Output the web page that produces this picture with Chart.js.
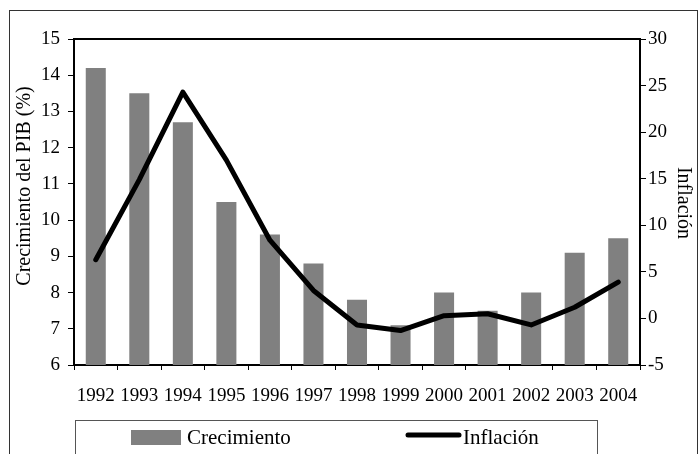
<!DOCTYPE html>
<html lang="es">
<head>
<meta charset="utf-8">
<title>Crecimiento e inflación</title>
<script src="https://cdn.jsdelivr.net/npm/chart.js@4/dist/chart.umd.min.js"></script>
<style>
  html, body { margin: 0; padding: 0; background: #fff; }
  #wrap { width: 699px; height: 454px; }
</style>
</head>
<body>
<div id="wrap"><canvas id="chart" width="699" height="454"></canvas></div>
<script>
// ─── DATA ─────────────────────────────────────────────────────────────────────
const years = ['1992', '1993', '1994', '1995', '1996', '1997', '1998',
               '1999', '2000', '2001', '2002', '2003', '2004'];
const crecimiento = [14.2, 13.5, 12.7, 10.5, 9.6, 8.8, 7.8, 7.1, 8.0, 7.5, 8.0, 9.1, 9.5];
const inflacion = [6.3, 14.9, 24.3, 17.0, 8.4, 3.0, -0.7, -1.3, 0.3, 0.5, -0.7, 1.2, 3.9];
const leftTicks = { min: 6, max: 15, step: 1 };
const rightTicks = { min: -5, max: 30, step: 5 };
const leftTitle = 'Crecimiento del PIB (%)';
const rightTitle = 'Inflación';

const SERIF = '"Liberation Serif", "Times New Roman", serif';
const BAR_GREY = '#808080';

// ─── FRAME + TITLES + LEGEND PLUGIN ───────────────────────────────────────────
// Excel-style frame: outer border, top edge of the plot box, axis titles
// (the left one sits a bit above centre in the original) and the boxed legend
const framePlugin = {
  id: 'frame',
  afterDraw(chart) {
    const { ctx, chartArea } = chart;
    ctx.save();

    // outer border
    ctx.strokeStyle = '#333';
    ctx.lineWidth = 1;
    ctx.strokeRect(9.5, 10.5, 688, 460);

    // top edge of the plot area
    ctx.strokeStyle = '#000';
    ctx.lineWidth = 2;
    ctx.beginPath();
    ctx.moveTo(chartArea.left, chartArea.top);
    ctx.lineTo(chartArea.right, chartArea.top);
    ctx.stroke();

    // axis titles
    ctx.fillStyle = '#000';
    ctx.font = '20px ' + SERIF;
    ctx.textAlign = 'center';
    ctx.textBaseline = 'middle';
    ctx.save();
    ctx.translate(25, 186);
    ctx.rotate(-Math.PI / 2);
    ctx.fillText(leftTitle, 0, 0);
    ctx.restore();
    ctx.save();
    ctx.translate(683, 203);
    ctx.rotate(Math.PI / 2);
    ctx.fillText(rightTitle, 0, 0);
    ctx.restore();

    // legend box
    ctx.strokeStyle = '#555';
    ctx.lineWidth = 1;
    ctx.strokeRect(75.5, 420.5, 522, 60);

    const ds = chart.data.datasets;
    ctx.font = '21px ' + SERIF;
    ctx.textAlign = 'left';
    ctx.textBaseline = 'middle';

    // bar swatch
    ctx.fillStyle = ds[0].backgroundColor;
    ctx.fillRect(131, 430, 50, 15);
    ctx.fillStyle = '#000';
    ctx.fillText(ds[0].label, 187, 438);

    // line swatch
    ctx.strokeStyle = ds[1].borderColor;
    ctx.lineWidth = 5;
    ctx.lineCap = 'round';
    ctx.beginPath();
    ctx.moveTo(408, 435);
    ctx.lineTo(459, 435);
    ctx.stroke();
    ctx.fillText(ds[1].label, 463, 438);

    ctx.restore();
  }
};

// ─── CHART ────────────────────────────────────────────────────────────────────
const ctx = document.getElementById('chart').getContext('2d');
new Chart(ctx, {
  type: 'bar',
  data: {
    labels: years,
    datasets: [
      {
        type: 'bar',
        label: 'Crecimiento',
        data: crecimiento,
        backgroundColor: BAR_GREY,
        borderWidth: 0,
        barPercentage: 0.46,
        categoryPercentage: 1,
        yAxisID: 'y',
        order: 1
      },
      {
        type: 'line',
        label: 'Inflación',
        data: inflacion,
        borderColor: '#000',
        backgroundColor: '#000',
        borderWidth: 5,
        borderCapStyle: 'round',
        borderJoinStyle: 'round',
        pointRadius: 0,
        tension: 0,
        yAxisID: 'y1',
        order: 0
      }
    ]
  },
  options: {
    responsive: false,
    animation: false,
    layout: { padding: { top: 39, left: 0, right: 0, bottom: 0 } },
    plugins: {
      legend: { display: false },
      tooltip: { enabled: false }
    },
    scales: {
      x: {
        afterFit(scale) { scale.height = 89; },
        border: { color: '#000', width: 2 },
        grid: { drawOnChartArea: false, color: '#000', tickLength: 5, offset: true },
        ticks: { color: '#000', font: { family: SERIF, size: 19 }, padding: 15, maxRotation: 0, autoSkip: false }
      },
      y: {
        position: 'left',
        min: leftTicks.min,
        max: leftTicks.max,
        afterFit(scale) { scale.width = 74; },
        border: { color: '#000', width: 2 },
        grid: { drawOnChartArea: false, color: '#000', tickLength: 6 },
        ticks: { stepSize: leftTicks.step, color: '#000', font: { family: SERIF, size: 19 }, padding: 8 }
      },
      y1: {
        position: 'right',
        min: rightTicks.min,
        max: rightTicks.max,
        afterFit(scale) { scale.width = 59; },
        border: { color: '#000', width: 2 },
        grid: { drawOnChartArea: false, color: '#000', tickLength: 6 },
        ticks: { stepSize: rightTicks.step, color: '#000', font: { family: SERIF, size: 19 }, padding: 2 }
      }
    }
  },
  plugins: [framePlugin]
});
</script>
</body>
</html>
